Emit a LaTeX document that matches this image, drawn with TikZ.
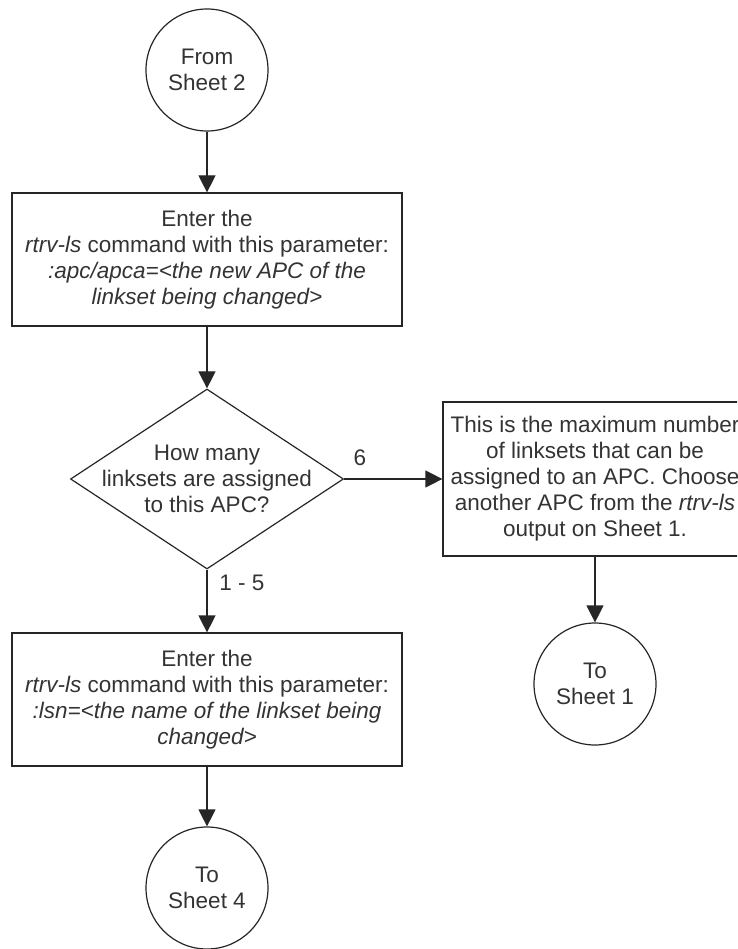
\documentclass[tikz,border=0pt]{standalone}
\usepackage{fontspec}
\setmainfont{Liberation Sans}
\usetikzlibrary{arrows.meta,shapes.geometric}
\begin{document}
\begin{tikzpicture}[x=1pt,y=-1pt,
  line/.style={draw=black!85, line width=1.2pt},
  txt/.style={font=\fontsize{22.5}{26}\selectfont, text=black!80, align=center},
  boxnode/.style={line, txt, rectangle, inner sep=0pt},
  circ/.style={line, txt, circle, inner sep=0pt, minimum size=122pt},
  arr/.style={line, -{Triangle[width=17pt,length=17pt]}},
]
\useasboundingbox (0,0) rectangle (737,949);
\clip (0,0) rectangle (737,949);
\node[circ] (s2) at (207,70) {From\\Sheet 2};
\node[boxnode, minimum width=390pt, minimum height=133pt] (b1) at (207,259.5)
  {Enter the\\\textit{rtrv-ls} command with this parameter:\\\textit{:apc/apca=<the new APC of the}\\\textit{linkset being changed>}};
\node[line, diamond, minimum width=273pt, minimum height=180pt, inner sep=0pt] (d) at (207,479) {};
\node[txt] (dt) at (d.center) {How many\\linksets are assigned\\to this APC?};
\node[boxnode, minimum width=304pt, minimum height=154pt] (b3) at (595,479)
  {This is the maximum number\\of linksets that can be\\assigned to an APC. Choose\\another APC from the \textit{rtrv-ls}\\output on Sheet 1.};
\node[circ] (s1) at (595,684) {To\\Sheet 1};
\node[boxnode, minimum width=390pt, minimum height=133pt] (b2) at (207,699.5)
  {Enter the\\\textit{rtrv-ls} command with this parameter:\\\textit{:lsn=<the name of the linkset being}\\\textit{changed>}};
\node[circ] (s4) at (207,888) {To\\Sheet 4};
\node[txt] (l6) at (360,458) {6};
\node[txt] (l15) at (242,583) {1 - 5};
\draw[arr] (s2) -- (b1);
\draw[arr] (b1) -- (d);
\draw[arr] (d) -- (b3);
\draw[arr] (d) -- (b2);
\draw[arr] (b3) -- (s1);
\draw[arr] (b2) -- (s4);
\end{tikzpicture}
\end{document}
